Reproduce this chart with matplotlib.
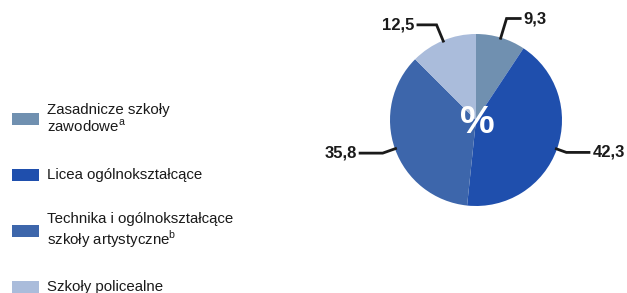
import numpy as np
import matplotlib.pyplot as plt

plt.rcParams['font.family'] = ['Liberation Sans', 'DejaVu Sans']
plt.rcParams['mathtext.fontset'] = 'custom'
plt.rcParams['mathtext.rm'] = 'Liberation Sans'

categories = [r"Zasadnicze szkoły" "\n" r"zawodowe$^\mathregular{a}$",
              "Licea ogólnokształcące",
              r"Technika i ogólnokształcące" "\n" r"szkoły artystyczne$^\mathregular{b}$",
              "Szkoły policealne"]
values = [9.3, 42.3, 35.8, 12.5]
value_labels = ["9,3", "42,3", "35,8", "12,5"]
colors = ["#7090b0", "#1f4fad", "#3d66ab", "#aabcdb"]

W, H = 627, 293
fig = plt.figure(figsize=(W / 100, H / 100), dpi=100)
ax = fig.add_axes([0, 0, 1, 1])

cx, cy, r = 476, H - 120, 86
wedges, _ = ax.pie(values, colors=colors, startangle=90, counterclock=False,
                   center=(cx, cy), radius=r, wedgeprops=dict(linewidth=0))
ax.set_xlim(0, W)
ax.set_ylim(0, H)
ax.set_aspect('equal')
ax.axis('off')

ax.text(cx + 1, cy - 3, "%", color='white', fontsize=28, fontweight='bold',
        ha='center', va='center')

# leader lines: out from wedge middle, then horizontal
r_out = [106, 96, 99, 103]
h_len = [15, 24, 24, 20]
for w, lab, ro, hl in zip(wedges, value_labels, r_out, h_len):
    ang = np.deg2rad((w.theta1 + w.theta2) / 2)
    x0, y0 = cx + (r - 2) * np.cos(ang), cy + (r - 2) * np.sin(ang)
    x1, y1 = cx + ro * np.cos(ang), cy + ro * np.sin(ang)
    side = 1 if np.cos(ang) >= 0 else -1
    x2 = x1 + side * hl
    ax.plot([x0, x1, x2], [y0, y1, y1], color='#1a1a1a', lw=2,
            solid_joinstyle='miter', solid_capstyle='butt')
    ax.text(x2 + side * 2, y1, lab, fontsize=12, fontweight='bold',
            color='#1a1a1a', ha='left' if side > 0 else 'right', va='center')

# legend
rows_y = [119, 175, 231, 287]
for cat, col, py in zip(categories, colors, rows_y):
    ax.add_patch(plt.Rectangle((12, H - py - 6), 27, 12, color=col, lw=0))
    ax.text(47, H - py, cat, fontsize=10.8, color='#1a1a1a', ha='left',
            va='center', linespacing=1.1)

fig.savefig('out.png', dpi=100, facecolor='white')
